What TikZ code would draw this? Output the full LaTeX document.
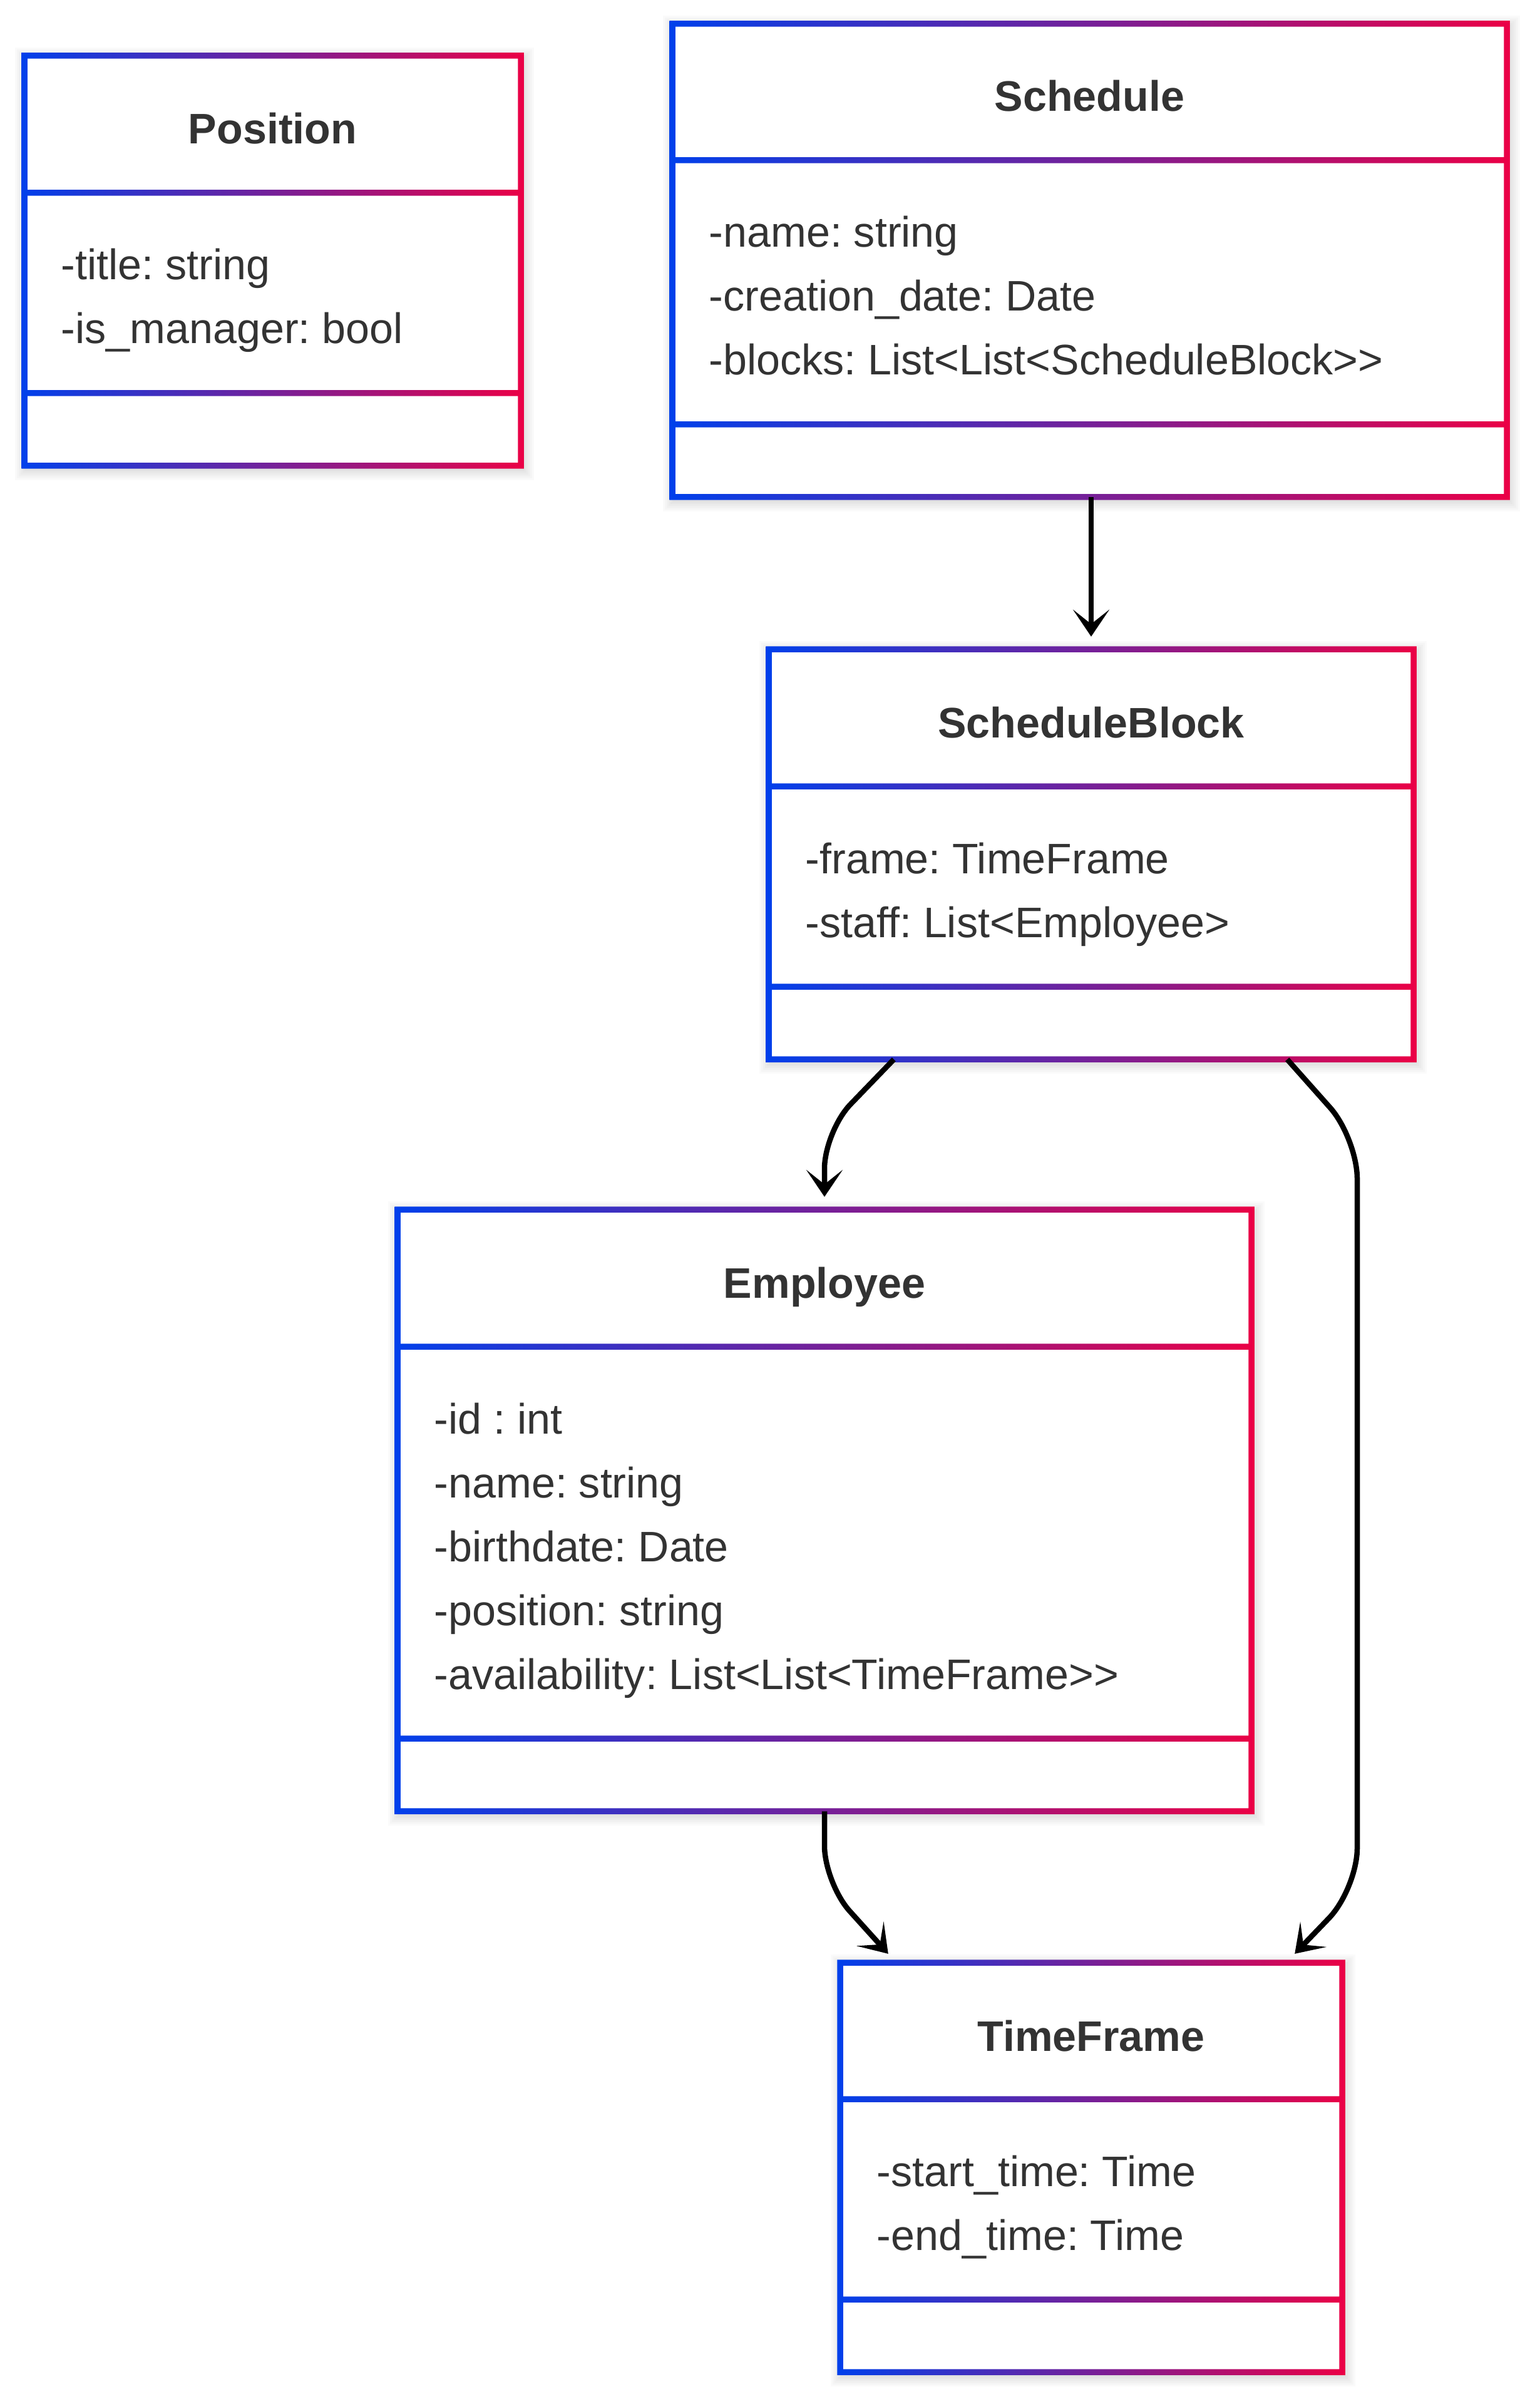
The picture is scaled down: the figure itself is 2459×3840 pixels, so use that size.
\documentclass[tikz,border=0pt]{standalone}
\usepackage{fontspec}
\setmainfont{Liberation Sans}
\usetikzlibrary{arrows.meta}
\frenchspacing

\definecolor{clsblue}{RGB}{0,64,235}
\definecolor{clsred}{RGB}{235,0,70}
\definecolor{clstext}{RGB}{51,51,51}

\newcommand{\classfont}{\fontsize{19.4pt}{23pt}\selectfont}

% gradient frame of one class box: left, right, top, header line, member line, bottom
\newcommand{\classframe}[6]{%
  \foreach \s in {1,...,6}
    \fill[black, opacity=0.018] (#1+3-\s*3,#3+5-\s*3) rectangle (#2+3+\s*3,#6+5+\s*3);
  \fill[white] (#1,#3) rectangle (#2,#6);
  \shade[left color=clsblue, right color=clsred, even odd rule]
    (#1-4.75,#3-4.75) rectangle (#2+4.75,#6+4.75)
    (#1+4.75,#3+4.75) rectangle (#2-4.75,#4-4.75)
    (#1+4.75,#4+4.75) rectangle (#2-4.75,#5-4.75)
    (#1+4.75,#5+4.75) rectangle (#2-4.75,#6-4.75);
}

\begin{document}
\begin{tikzpicture}[x=0.01cm, y=-0.01cm,
  classnode/.style={inner sep=0pt, outer sep=0pt},
  classtitle/.style={anchor=base, text=clstext, font=\classfont\bfseries},
  member/.style={anchor=base west, inner sep=0pt, text=clstext, font=\classfont},
  link/.style={line width=0.085cm, rounded corners=0.6cm,
    -{Stealth[length=0.43cm, width=0.58cm, inset=0.23cm]}}]

\useasboundingbox (0,0) rectangle (2459,3840);

% Position
\classframe{39}{832}{89}{308}{628}{744}
\node[classnode, minimum width=7.93cm, minimum height=6.55cm] (Pos) at (435.5,416.5) {};
\node[classtitle] (PosT) at (435.5,230) {Position};
\node[member] (PosA1) at (97,447) {-title: string};
\node[member] (PosA2) at (97,549) {-is\_manager: bool};

% Schedule
\classframe{1074}{2407}{38}{256}{678}{794}
\node[classnode, minimum width=13.33cm, minimum height=7.56cm] (Sched) at (1740.5,416) {};
\node[classtitle] (SchedT) at (1740.5,178) {Schedule};
\node[member] (SchedA1) at (1132,395) {-name: string};
\node[member] (SchedA2) at (1132,497) {-creation\_date: Date};
\node[member] (SchedA3) at (1132,599) {-blocks: List<List<ScheduleBlock>{}>};

% ScheduleBlock
\classframe{1228}{2258}{1037}{1256}{1576}{1692}
\node[classnode, minimum width=10.30cm, minimum height=6.55cm] (SB) at (1743,1364.5) {};
\node[classtitle] (SBT) at (1743,1178) {ScheduleBlock};
\node[member] (SBA1) at (1286,1395) {-frame: TimeFrame};
\node[member] (SBA2) at (1286,1497) {-staff: List<Employee>};

% Employee
\classframe{635}{1999}{1932}{2151}{2777}{2893}
\node[classnode, minimum width=13.64cm, minimum height=9.61cm] (Emp) at (1317,2412.5) {};
\node[classtitle] (EmpT) at (1317,2073) {Employee};
\foreach \t [count=\i] in {-id : int, -name: string, -birthdate: Date,
    -position: string, -availability: List<List<TimeFrame>{}>}
  \node[member] (EmpA\i) at (693,2188+\i*102) {\t};

% TimeFrame
\classframe{1342}{2144}{3135}{3353}{3673}{3789}
\node[classnode, minimum width=8.02cm, minimum height=6.54cm] (TF) at (1743,3462) {};
\node[classtitle] (TFT) at (1743,3276) {TimeFrame};
\node[member] (TFA1) at (1400,3492) {-start\_time: Time};
\node[member] (TFA2) at (1400,3594) {-end\_time: Time};

% bends
\coordinate (bendA) at (1317,1807);
\coordinate (bendB) at (2168,1818);
\coordinate (bendC) at (2168,3017);
\coordinate (bendD) at (1317,3008);

\draw[link] (Sched.south -| SB.north) -- ([yshift=0.2cm]SB.north);
\draw[link] ([xshift=2.00cm]SB.south west) -- (bendA) -- ([yshift=0.2cm]Emp.north);
\draw[link, rounded corners=0.65cm] ([xshift=-2.02cm]SB.south east) -- (bendB) -- (bendC)
  -- ([xshift=-0.76cm, yshift=0.14cm]TF.north east);
\draw[link] (Emp.south) -- (bendD) -- ([xshift=0.77cm, yshift=0.14cm]TF.north west);
\end{tikzpicture}
\end{document}
